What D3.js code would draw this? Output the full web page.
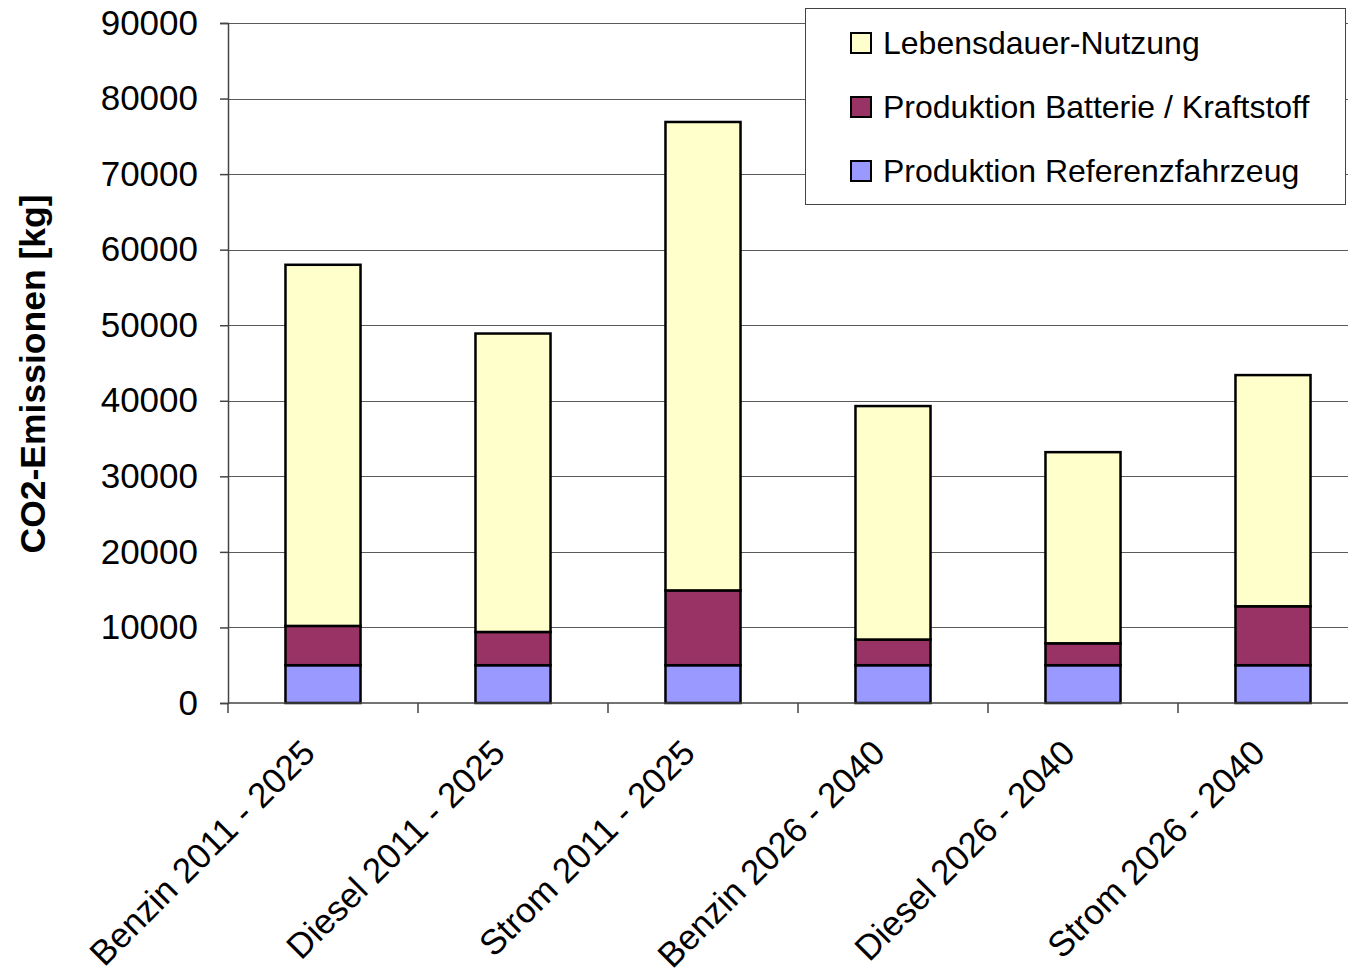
<!DOCTYPE html>
<html>
<head>
<meta charset="utf-8">
<script src="https://cdn.jsdelivr.net/npm/d3@7"></script>
<style>
  html, body { margin: 0; padding: 0; background: #fff; }
  svg { display: block; font-family: "Liberation Sans", Arial, sans-serif; }
</style>
</head>
<body>
<svg id="chart" width="1348" height="969"></svg>
<script>
// Vehicle scenarios
const categories = [
  "Benzin 2011 - 2025",
  "Diesel 2011 - 2025",
  "Strom 2011 - 2025",
  "Benzin 2026 - 2040",
  "Diesel 2026 - 2040",
  "Strom 2026 - 2040"
];

// CO2 emissions per stack segment, kg
const referenzfahrzeug = [5000, 5000, 5000, 5000, 5000, 5000];
const batterieKraftstoff = [5200, 4400, 9900, 3400, 2900, 7800];
const lebensdauerNutzung = [47800, 39500, 62000, 30900, 25300, 30600];

const seriesNames = [
  "Produktion Referenzfahrzeug",
  "Produktion Batterie / Kraftstoff",
  "Lebensdauer-Nutzung"
];
const seriesColors = ["#9999FF", "#993366", "#FFFFCC"];
const yTicks = [0, 10000, 20000, 30000, 40000, 50000, 60000, 70000, 80000, 90000];

const rows = categories.map((c, i) => ({
  cat: c,
  "Produktion Referenzfahrzeug": referenzfahrzeug[i],
  "Produktion Batterie / Kraftstoff": batterieKraftstoff[i],
  "Lebensdauer-Nutzung": lebensdauerNutzung[i]
}));

const svg = d3.select("#chart");
const plotLeft = 228, plotBottom = 703, plotTop = 23, step = 190;

const x = d3.scaleBand().domain(categories).range([plotLeft, plotLeft + step * categories.length]).padding(0);
const y = d3.scaleLinear().domain([0, 90000]).range([plotBottom, plotTop]);
const color = d3.scaleOrdinal().domain(seriesNames).range(seriesColors);

// horizontal gridlines
svg.append("g")
  .selectAll("line")
  .data(yTicks.filter(t => t > 0))
  .join("line")
  .attr("x1", plotLeft).attr("x2", 1348)
  .attr("y1", d => Math.round(y(d)) + 0.5).attr("y2", d => Math.round(y(d)) + 0.5)
  .attr("stroke", "#5a5a5a").attr("stroke-width", 1);

// y axis
const yAxis = svg.append("g")
  .attr("transform", `translate(${plotLeft},0)`)
  .call(d3.axisLeft(y).tickValues(yTicks).tickSize(8).tickPadding(22).tickFormat(d3.format("d")));
yAxis.select(".domain").attr("stroke", "#444").attr("stroke-width", 1.5);
yAxis.selectAll(".tick line").attr("stroke", "#444").attr("stroke-width", 1.5);
yAxis.selectAll("text")
  .attr("font-size", 35).attr("fill", "#000")
  .attr("font-family", "'Liberation Sans', Arial, sans-serif");

// stacked bars
const stack = d3.stack().keys(seriesNames);
const layers = stack(rows);
const barW = x.bandwidth() * 0.395;

svg.append("g")
  .selectAll("g")
  .data(layers)
  .join("g")
  .attr("fill", d => color(d.key))
  .selectAll("rect")
  .data(d => d)
  .join("rect")
  .attr("x", d => x(d.data.cat) + (x.bandwidth() - barW) / 2)
  .attr("width", barW)
  .attr("y", d => y(d[1]))
  .attr("height", d => y(d[0]) - y(d[1]))
  .attr("stroke", "#000")
  .attr("stroke-width", 2.5);

// x axis line and category separators
const xg = svg.append("g");
xg.append("line")
  .attr("x1", plotLeft).attr("x2", 1348)
  .attr("y1", plotBottom).attr("y2", plotBottom)
  .attr("stroke", "#444").attr("stroke-width", 1.5);
xg.selectAll("line.sep")
  .data(categories)
  .join("line")
  .attr("class", "sep")
  .attr("x1", d => x(d)).attr("x2", d => x(d))
  .attr("y1", plotBottom).attr("y2", plotBottom + 10)
  .attr("stroke", "#444").attr("stroke-width", 1.5);

// rotated category labels
xg.selectAll("text")
  .data(categories)
  .join("text")
  .attr("transform", d => `translate(${x(d) + x.bandwidth() / 2 - 6},${plotBottom + 52}) rotate(-45)`)
  .attr("text-anchor", "end")
  .attr("font-size", 35)
  .attr("fill", "#000")
  .text(d => d);

// y axis title
svg.append("text")
  .attr("transform", "translate(45,374) rotate(-90)")
  .attr("text-anchor", "middle")
  .attr("font-size", 35.5)
  .attr("font-weight", "bold")
  .attr("fill", "#000")
  .text("CO2-Emissionen [kg]");

// legend
const legend = svg.append("g");
legend.append("rect")
  .attr("x", 805.5).attr("y", 8.5).attr("width", 540).attr("height", 196)
  .attr("fill", "#fff").attr("stroke", "#444").attr("stroke-width", 1);

const legendOrder = seriesNames.slice().reverse();
const li = legend.selectAll("g.item")
  .data(legendOrder)
  .join("g")
  .attr("class", "item")
  .attr("transform", (d, i) => `translate(851,${33 + i * 64})`);
li.append("rect")
  .attr("width", 20).attr("height", 20)
  .attr("fill", d => color(d))
  .attr("stroke", "#000").attr("stroke-width", 2);
li.append("text")
  .attr("x", 32).attr("y", 9)
  .attr("dy", "0.36em")
  .attr("font-size", 32)
  .attr("fill", "#000")
  .text(d => d);
</script>
</body>
</html>
